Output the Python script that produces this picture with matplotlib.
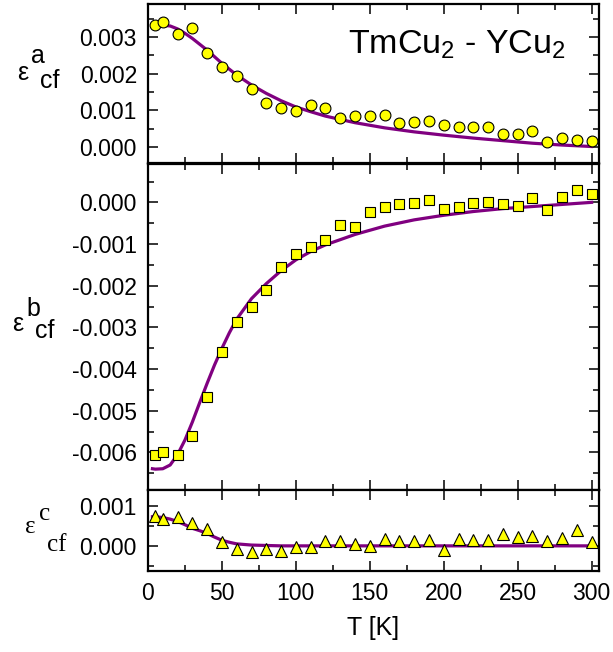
import matplotlib

matplotlib.use("Agg")
import matplotlib.pyplot as plt
import numpy as np
from matplotlib.ticker import MultipleLocator, FuncFormatter

plt.rcParams["font.family"] = ["Liberation Sans", "DejaVu Sans"]
plt.rcParams["mathtext.fontset"] = "custom"
plt.rcParams["mathtext.rm"] = "Liberation Sans"

W, H = 613, 652

# measured points (strain in units of 1e-3)
T = [5, 10, 20, 30, 40, 50, 60, 70, 80, 90, 100, 110, 120, 130, 140, 150,
     160, 170, 180, 190, 200, 210, 220, 230, 240, 250, 260, 270, 280, 290, 300]
eps_a = [3.32, 3.41, 3.08, 3.24, 2.55, 2.19, 1.94, 1.59, 1.19, 1.06, 0.97,
         1.13, 1.05, 0.78, 0.83, 0.84, 0.87, 0.65, 0.69, 0.70, 0.60, 0.55,
         0.54, 0.53, 0.34, 0.35, 0.42, 0.12, 0.25, 0.19, 0.15]
eps_b = [-6.05, -6.00, -6.06, -5.61, -4.68, -3.58, -2.88, -2.50, -2.10, -1.55,
         -1.25, -1.07, -0.91, -0.55, -0.60, -0.22, -0.10, -0.04, -0.02, 0.05,
         -0.16, -0.10, -0.01, 0.00, -0.05, -0.08, 0.11, -0.19, 0.14, 0.30, 0.19]
eps_c = [0.75, 0.68, 0.72, 0.57, 0.43, 0.09, -0.07, -0.16, -0.08, -0.12,
         -0.03, -0.03, 0.11, 0.11, 0.05, 0.00, 0.17, 0.11, 0.13, 0.15, -0.10,
         0.18, 0.15, 0.15, 0.29, 0.22, 0.24, 0.13, 0.19, 0.40, 0.09]

# crystal-field fit curves (same units)
T_fit = [3, 5, 10, 15, 20, 25, 30, 35, 40, 45, 50, 55, 60, 70, 80, 90, 100,
         110, 120, 140, 160, 180, 200, 220, 240, 260, 280, 300]
fit_a = [3.30, 3.31, 3.32, 3.30, 3.22, 3.10, 2.96, 2.80, 2.64, 2.46, 2.28,
         2.12, 1.96, 1.69, 1.46, 1.26, 1.09, 0.96, 0.84, 0.66, 0.52, 0.41,
         0.32, 0.24, 0.17, 0.10, 0.05, 0.01]
fit_b = [-6.39, -6.40, -6.39, -6.30, -6.05, -5.70, -5.27, -4.80, -4.34, -3.90,
         -3.50, -3.13, -2.80, -2.31, -1.95, -1.64, -1.38, -1.18, -1.02, -0.77,
         -0.57, -0.42, -0.31, -0.22, -0.15, -0.10, -0.05, 0.00]
fit_c = [0.73, 0.73, 0.71, 0.67, 0.61, 0.53, 0.44, 0.38, 0.31, 0.22, 0.14,
         0.09, 0.05, 0.02, 0.01, 0.00, 0.00, 0.00, 0.00, 0.00, 0.00, 0.00,
         0.00, 0.00, 0.00, 0.00, 0.00, 0.00]

PURPLE = "#800080"
YELLOW = "#ffff00"

fig = plt.figure(figsize=(W / 100, H / 100), dpi=100)
fig.patch.set_facecolor("white")


def rect(top, bottom, left=148, right=599):
    return [left / W, 1 - bottom / H, (right - left) / W, (bottom - top) / H]


def fmt(v, _):
    s = f"{v:.3f}"
    return "0.000" if s == "-0.000" else s


def panel(r, ylim):
    ax = fig.add_axes(r)
    ax.set_xlim(0, 305)
    ax.set_ylim(*ylim)
    ax.xaxis.set_major_locator(MultipleLocator(50))
    ax.xaxis.set_minor_locator(MultipleLocator(25))
    ax.yaxis.set_major_locator(MultipleLocator(0.001))
    ax.yaxis.set_minor_locator(MultipleLocator(0.0005))
    ax.yaxis.set_major_formatter(FuncFormatter(fmt))
    ax.tick_params(which="both", direction="in", top=True, right=True,
                   width=1.1, labelsize=16.5, pad=8)
    ax.tick_params(which="major", length=7)
    ax.tick_params(which="minor", length=4)
    for s in ax.spines.values():
        s.set_linewidth(1.6)
    return ax


def draw(ax, y, fit, marker, ms):
    ax.plot(T_fit, np.array(fit) * 1e-3, color=PURPLE, linewidth=2.3, zorder=2)
    ax.plot(T, np.array(y) * 1e-3, linestyle="none", marker=marker,
            markersize=ms, markerfacecolor=YELLOW, markeredgecolor="black",
            markeredgewidth=0.8, zorder=3)


ax_a = panel(rect(4, 163), (-0.00044, 0.0039))
ax_b = panel(rect(164, 490), (-0.0069, 0.00092))
ax_c = panel(rect(490, 571), (-0.00063, 0.0014))

draw(ax_a, eps_a, fit_a, "o", 7.8)
draw(ax_b, eps_b, fit_b, "s", 7.0)
draw(ax_c, eps_c, fit_c, "^", 8.2)

for ax in (ax_a, ax_b):
    ax.tick_params(labelbottom=False)

ax_c.set_xlabel("T [K]", fontsize=18, labelpad=8)

ax_a.text((348 - 148) / 451, (163 - 53) / 159, r"TmCu$_2$ - YCu$_2$",
          transform=ax_a.transAxes, fontsize=24.5, va="baseline")


def ylabel(x, y, sup, supdx, supdy, subdx, subdy, family):
    kw = dict(fontsize=18, va="baseline", ha="left", family=family)
    fig.text(x / W, 1 - y / H, "\u03b5", **kw)
    fig.text((x + supdx) / W, 1 - (y - supdy) / H, sup, **kw)
    fig.text((x + subdx) / W, 1 - (y + subdy) / H, "cf", **kw)


ylabel(17, 80, "a", 14, 17, 23, 8, ["Liberation Sans", "DejaVu Sans"])
ylabel(12, 331, "b", 14, 15, 23, 7, ["Liberation Sans", "DejaVu Sans"])
ylabel(25, 533, "c", 14, 13, 22, 18, ["Liberation Serif", "DejaVu Serif"])

fig.savefig("out.png", dpi=100, facecolor="white")
